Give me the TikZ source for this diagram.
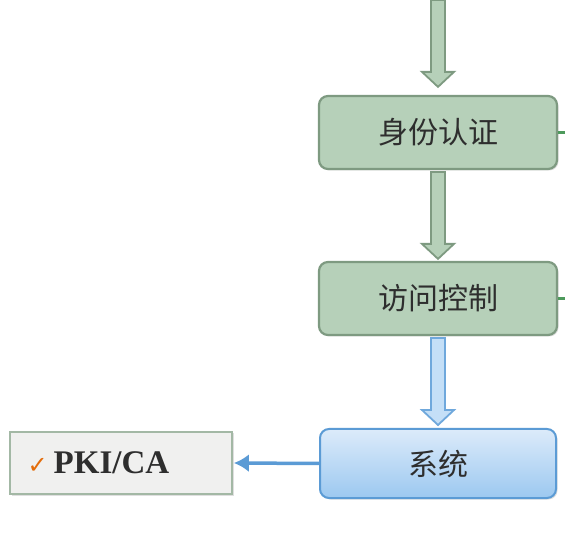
\documentclass[tikz,border=0pt]{standalone}
\usepackage{fontspec}
\setmainfont{Liberation Serif}
\newfontfamily\cjk{Noto Sans CJK SC}
\newfontfamily\symfont{DejaVu Sans}
\usetikzlibrary{positioning}
\usetikzlibrary{calc}
\usetikzlibrary{shadows}
\usetikzlibrary{arrows.meta}
\definecolor{stepfill}{HTML}{B6D0B9}
\definecolor{stepline}{HTML}{7E9A81}
\definecolor{sysline}{HTML}{5B9BD5}
\definecolor{systop}{HTML}{DCEBFA}
\definecolor{sysbot}{HTML}{9CC8F0}
\definecolor{arrline}{HTML}{6FA8DC}
\definecolor{arrfill}{HTML}{C4DFF7}
\definecolor{pkifill}{HTML}{F0F0EF}
\definecolor{pkiline}{HTML}{A3B8A5}
\definecolor{tick}{HTML}{E46C0A}
\definecolor{linkgreen}{HTML}{4E9A5C}
\definecolor{ink}{HTML}{2E2E2E}
\tikzstyle{stepbox} = [draw=stepline,fill=stepfill,line width=2.2pt,rounded corners=9pt,minimum width=238pt,minimum height=73pt,text=ink,font=\cjk\fontsize{30}{34}\selectfont,drop shadow={opacity=0.25,shadow xshift=1.5pt,shadow yshift=-1.5pt}]
\tikzstyle{sysbox} = [draw=sysline,top color=systop,bottom color=sysbot,line width=2pt,rounded corners=9pt,minimum width=236pt,minimum height=69pt,text=ink,font=\cjk\fontsize{30}{34}\selectfont,drop shadow={opacity=0.25,shadow xshift=1.5pt,shadow yshift=-1.5pt}]
\tikzstyle{infobox} = [draw=pkiline,fill=pkifill,line width=1.8pt,minimum width=222pt,minimum height=62pt,drop shadow={opacity=0.25,shadow xshift=1.5pt,shadow yshift=-1.5pt}]
\tikzstyle{garrow} = [draw=stepline,fill=stepfill,line width=1.8pt,line join=miter]
\tikzstyle{barrow} = [draw=arrline,fill=arrfill,line width=1.8pt,line join=miter]
% block arrow pointing down: style, start, tip
\newcommand{\blkarrow}[3]{\draw[#1] let \p1=(#2), \p2=(#3) in
  (\x1-7pt,\y1) -- (\x1-7pt,\y2+15pt) -- (\x1-16pt,\y2+15pt) -- (\x1,\y2)
  -- (\x1+16pt,\y2+15pt) -- (\x1+7pt,\y2+15pt) -- (\x1+7pt,\y1) -- cycle;}

\begin{document}
\begin{tikzpicture}
	[x=1pt,y=1pt]
	\useasboundingbox[fill=white] (0,0) rectangle (565,533);
	\node (auth) [stepbox] at (438,400.5) {身份认证};
	\node (acc) [stepbox] at (438,234.5) {访问控制};
	\node (sys) [sysbox] at (438,69.5) {系统};
	\node (pki) [infobox] at (121,70) {};
	\node (pkitext) [anchor=west] at ($(pki.west)+(15,0)$) {{\symfont\color{tick}\fontsize{24}{26}\selectfont ✓}\hspace{6pt}{\bfseries\color{ink}\fontsize{33}{36}\selectfont PKI/CA}};
	\coordinate (in) at (438,533);
	\coordinate (edge) at (565,0);
	\blkarrow{garrow}{in}{$(auth.north)+(0,8)$}
	\blkarrow{garrow}{$(auth.south)+(0,-2)$}{$(acc.north)+(0,2)$}
	\blkarrow{barrow}{$(acc.south)+(0,-2)$}{$(sys.north)+(0,3)$}
	\draw[draw=sysline,line width=3.5pt,-{Latex[length=15pt,width=18pt]}] (sys.west) -- ($(pki.east)+(1,0)$);
	\draw[linkgreen,line width=3pt] (auth.east) -- (auth.east -| edge);
	\draw[linkgreen,line width=3pt] (acc.east) -- (acc.east -| edge);
\end{tikzpicture}
\end{document}
